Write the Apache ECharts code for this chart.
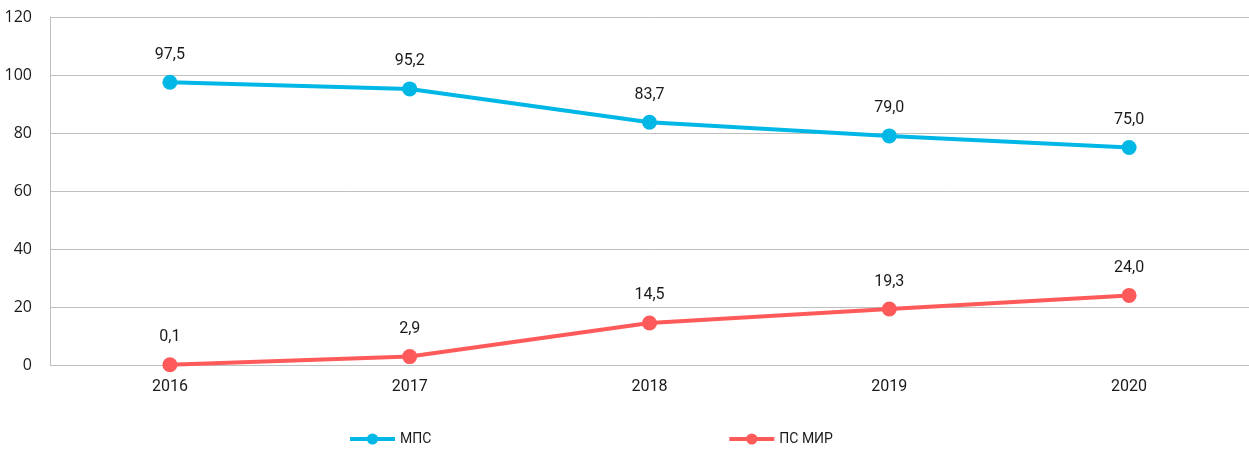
<!DOCTYPE html>
<html><head><meta charset="utf-8">
<script src="https://cdn.jsdelivr.net/npm/echarts@6/dist/echarts.min.js"></script>
<style>html,body{margin:0;padding:0;background:#fff}#c{width:1249px;height:451px}</style>
</head><body><div id="c"></div>
<script>
const categories = ['2016','2017','2018','2019','2020'];
const mpsValues = [97.5, 95.2, 83.7, 79.0, 75.0];
const mirValues = [0.1, 2.9, 14.5, 19.3, 24.0];
const seriesNames = ['МПС', 'ПС МИР'];
const yTicks = {min: 0, max: 120, interval: 20};

const font = '"Open Sans", "Noto Sans", sans-serif';
const narrow = 'Roboto, "Liberation Sans", sans-serif';
const chart = echarts.init(document.getElementById('c'), null, {renderer: 'canvas'});
function mk(name, data, color) {
  return {
    name, type: 'line', data,
    symbol: 'circle', symbolSize: 15,
    lineStyle: {width: 4, color},
    itemStyle: {color},
    label: {
      show: true, position: 'top', distance: 12,
      formatter: p => p.value.toFixed(1).replace('.', ','),
      fontFamily: narrow, fontSize: 16, color: '#1a1a1a'
    },
    emphasis: {disabled: true}
  };
}
chart.setOption({
  animation: false,
  grid: {left: 50, right: 0, top: 17, bottom: 86},
  legend: {
    left: 343, top: 427, itemWidth: 45, itemHeight: 14, itemGap: 296,
    lineStyle: {width: 4},
    textStyle: {fontFamily: narrow, fontSize: 14, color: '#1a1a1a'},
    data: seriesNames
  },
  xAxis: {
    type: 'category', data: categories, boundaryGap: true,
    axisLine: {show: false}, axisTick: {show: false},
    axisLabel: {fontFamily: narrow, fontSize: 16, color: '#1a1a1a', margin: 14}
  },
  yAxis: {
    type: 'value', min: yTicks.min, max: yTicks.max, interval: yTicks.interval,
    axisLine: {show: true, lineStyle: {color: '#bfbfbf', width: 1}},
    axisTick: {show: false},
    splitLine: {lineStyle: {color: '#bfbfbf', width: 1}},
    axisLabel: {fontFamily: font, fontSize: 16, color: '#1a1a1a', margin: 18}
  },
  series: [mk(seriesNames[0], mpsValues, '#00b7e6'), mk(seriesNames[1], mirValues, '#ff5a5a')]
});
</script></body></html>
